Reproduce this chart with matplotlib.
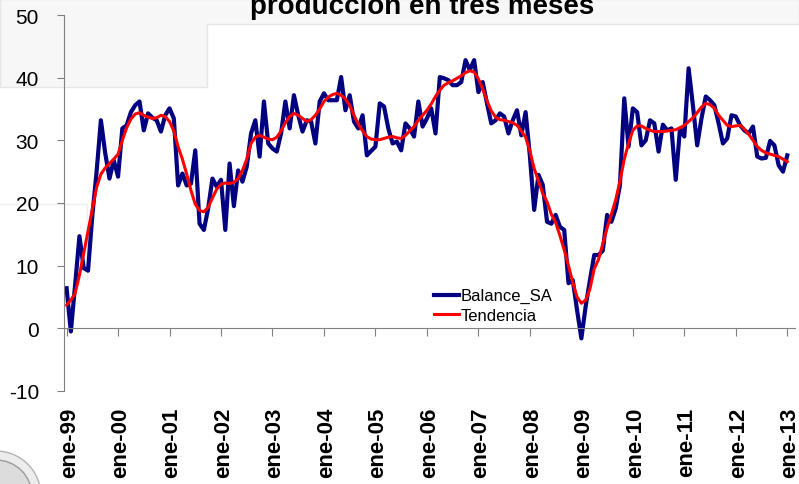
import numpy as np
import matplotlib.pyplot as plt
from matplotlib.patches import Polygon, Circle
from matplotlib.lines import Line2D

plt.rcParams['font.family'] = ['Liberation Sans', 'DejaVu Sans']
plt.rcParams['axes.unicode_minus'] = False

title = 'producción en tres meses'
years = ['99', '00', '01', '02', '03', '04', '05', '06', '07', '08', '09', '10', '11', '12', '13']
tick_labels = ['ene-' + y for y in years]

# monthly values, ene-99 .. ene-13
balance_sa = [
    6.4, -0.5, 7.0, 14.7, 9.6, 9.2, 18.0, 25.0, 33.2, 28.0, 23.9, 26.8,
    24.2, 31.9, 32.4, 34.5, 35.6, 36.2, 31.6, 34.3, 33.6, 33.2, 31.4, 34.0,
    35.1, 33.5, 22.8, 24.7, 22.8, 23.1, 28.4, 16.7, 15.7, 19.1, 23.9, 22.6,
    23.7, 15.7, 26.3, 19.5, 25.2, 23.4, 25.8, 31.1, 33.2, 27.4, 36.2, 29.5,
    28.7, 28.2, 31.1, 36.2, 31.9, 37.2, 34.0, 31.4, 33.2, 33.0, 29.5, 36.2,
    37.5, 36.4, 36.4, 36.4, 40.1, 34.8, 37.2, 33.0, 31.9, 34.0, 27.6, 28.3,
    29.0, 35.9, 35.4, 31.9, 29.5, 29.8, 28.4, 32.7, 31.9, 30.6, 36.2, 32.2,
    33.5, 35.1, 31.1, 40.1, 39.9, 39.6, 38.8, 38.8, 39.3, 42.8, 41.2, 42.8,
    37.7, 39.3, 35.9, 32.7, 33.2, 34.3, 33.8, 31.1, 33.2, 34.8, 30.8, 34.5,
    27.5, 18.9, 24.5, 22.9, 17.0, 16.7, 18.1, 16.2, 15.7, 7.2, 7.7, 2.9,
    -1.6, 3.5, 7.7, 11.7, 11.7, 12.4, 18.1, 17.0, 19.1, 22.9, 36.7, 29.0,
    35.1, 34.5, 29.2, 30.0, 33.2, 32.7, 28.2, 32.5, 31.6, 31.9, 23.7, 31.9,
    30.6, 41.5, 35.6, 29.2, 33.5, 37.0, 36.4, 35.6, 32.7, 29.5, 30.3, 34.0,
    33.8, 32.4, 31.6, 31.1, 32.2, 27.4, 27.1, 27.2, 29.9, 29.2, 26.0, 25.0,
    27.6,
]

tendencia = [
    3.7, 4.5, 5.6, 8.5, 12.0, 15.5, 19.0, 22.5, 24.6, 25.6, 26.3, 27.0,
    27.8, 30.0, 32.0, 33.4, 34.2, 34.4, 34.0, 33.7, 33.5, 33.6, 34.0, 33.8,
    33.0, 31.5, 29.0, 27.0, 24.6, 22.0, 19.8, 18.8, 18.6, 19.3, 20.8, 22.2,
    23.0, 23.2, 23.1, 23.3, 23.9, 25.2, 27.0, 29.5, 30.5, 30.8, 30.5, 30.2,
    30.1, 30.5, 31.5, 32.8, 33.8, 34.3, 34.0, 33.5, 33.0, 33.3, 34.0, 35.0,
    36.2, 36.9, 37.3, 37.5, 37.2, 36.6, 35.6, 34.0, 32.6, 31.5, 30.6, 30.2,
    30.1, 30.1, 30.3, 30.5, 30.6, 30.4, 30.3, 30.8, 31.5, 32.2, 33.2, 34.0,
    34.8, 35.8, 37.0, 38.0, 38.8, 39.2, 39.5, 39.9, 40.3, 40.8, 41.1, 40.9,
    39.8, 38.2, 36.3, 34.7, 33.7, 33.3, 33.2, 33.0, 32.8, 32.4, 31.5, 30.5,
    28.3, 25.5, 23.5, 21.5, 20.2, 18.2, 16.9, 14.8, 12.5, 10.0, 7.3, 5.0,
    4.0, 4.5, 6.3, 9.5, 11.0, 13.5, 16.0, 18.2, 20.5, 23.5, 27.0, 29.5,
    31.6, 32.3, 32.3, 31.9, 31.6, 31.4, 31.4, 31.4, 31.5, 31.6, 31.7, 32.0,
    32.4, 33.0, 33.6, 34.4, 35.3, 35.9, 35.7, 35.1, 34.0, 33.2, 32.4, 32.2,
    32.3, 32.4, 31.8, 31.0, 30.0, 29.0, 28.4, 28.0, 27.8, 27.6, 27.4, 27.0,
    26.6,
]

W, H = 799, 485
fig = plt.figure(figsize=(W / 100, H / 100), dpi=100)
fig.patch.set_facecolor('white')

# slide background left over around the chart
band = Polygon([(0, 1), (1, 1), (1, 1 - 25 / H), (207 / W, 1 - 25 / H),
                (207 / W, 1 - 88 / H), (0, 1 - 88 / H)],
               closed=True, transform=fig.transFigure, facecolor='#f7f7f7',
               edgecolor='#e6e6e6', lw=1, zorder=-2)
fig.patches.append(band)
fig.add_artist(Line2D([0, 87 / W, 87 / W], [1 - 205 / H, 1 - 205 / H, 1 - 280 / H],
                      transform=fig.transFigure, color='#efefef', lw=1, zorder=-2))

# seal in the bottom-left corner, mostly outside the picture
for r, fc, ec in [(45, '#ececec', '#b4b4b4'), (36, '#dcdcdc', '#9c9c9c')]:
    fig.add_artist(Circle((-4, -12), r, transform=None, facecolor=fc,
                          edgecolor=ec, lw=1.0, zorder=-1))

ax = fig.add_axes([64 / W, 93 / H, 731 / W, 376 / H])
ax.patch.set_alpha(0)

months = np.arange(len(balance_sa))
ax.plot(months, balance_sa, color='#000080', lw=3.0, label='Balance_SA', solid_joinstyle='round')
ax.plot(months, tendencia, color='#ff0000', lw=2.2, label='Tendencia')

ax.set_xlim(-0.6, 169.8)
ax.set_ylim(-10, 50)
ax.set_yticks(range(-10, 51, 10))

for s in ['top', 'right']:
    ax.spines[s].set_visible(False)
ax.spines['bottom'].set_position(('data', 0))
ax.spines['bottom'].set_color('#808080')
ax.spines['left'].set_color('#808080')

tick_pos = np.arange(0, len(balance_sa), 12)
ax.set_xticks(tick_pos)
ax.tick_params(axis='x', direction='out', length=6, color='#808080', labelbottom=False)
ax.tick_params(axis='y', direction='out', length=5, color='#808080', labelsize=15, pad=13)

for p, lab in zip(tick_pos, tick_labels):
    ax.text(p + 0.6, -16 / 376, lab, transform=ax.get_xaxis_transform(), rotation=90,
            ha='center', va='top', fontsize=16, fontweight='bold')

fig.text(422 / W, 1 - 14 / H, title, ha='center', va='baseline',
         fontsize=20, fontweight='bold')

ax.legend(loc='upper left', bbox_to_anchor=(426 / W, 1 - 281 / H),
          bbox_transform=fig.transFigure, frameon=False, fontsize=12,
          handlelength=1.5, handletextpad=0.1, labelspacing=0.25, borderpad=0)

fig.savefig('out.png', dpi=100)
